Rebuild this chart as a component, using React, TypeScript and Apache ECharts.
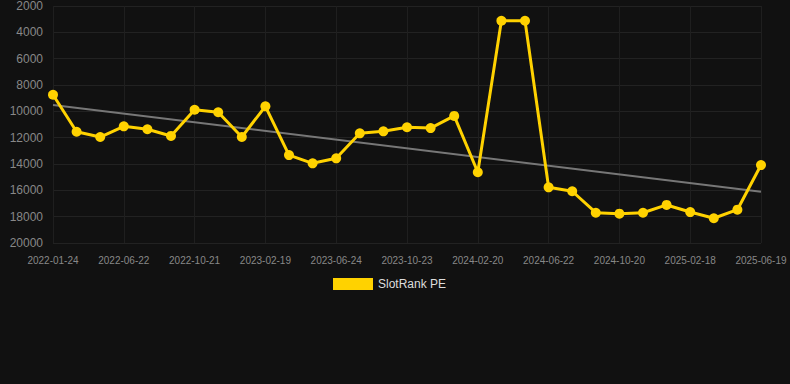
import React, { useEffect, useRef } from "react";
import * as echarts from "echarts";

const dates = [
  "2022-01-24", "2022-03-15", "2022-05-04",
  "2022-06-22", "2022-08-01", "2022-09-11",
  "2022-10-21", "2022-12-01", "2023-01-10",
  "2023-02-19", "2023-04-01", "2023-05-13",
  "2023-06-24", "2023-08-03", "2023-09-13",
  "2023-10-23", "2023-12-02", "2024-01-11",
  "2024-02-20", "2024-04-01", "2024-05-12",
  "2024-06-22", "2024-08-01", "2024-09-10",
  "2024-10-20", "2024-11-29", "2025-01-09",
  "2025-02-18", "2025-03-30", "2025-05-10",
  "2025-06-19",
];

const rankValues = [
  8740, 11550, 11950, 11140, 11360, 11870, 9880, 10070, 11950, 9620,
  13320, 13950, 13570, 11670, 11520, 11210, 11270, 10350, 14630, 3120,
  3120, 15770, 16070, 17700, 17770, 17700, 17110, 17650, 18120, 17470,
  14080,
];

const trendStart = 9520;
const trendEnd = 16100;

const yTicks = { min: 2000, max: 20000, interval: 2000 };

const FONT = "Arial, 'Liberation Sans', sans-serif";

export default function App() {
  const ref = useRef<HTMLDivElement>(null);
  useEffect(() => {
    if (!ref.current) return;
    const chart = echarts.init(ref.current, undefined, { renderer: "svg" });
    const trendData = dates.map((_, i) =>
      i === 0 ? trendStart : i === dates.length - 1 ? trendEnd : null
    );
    chart.setOption({
      animation: false,
      backgroundColor: "#111111",
      grid: { left: 53, right: 29, top: 6, bottom: 141, containLabel: false },
      legend: {
        data: [{ name: "SlotRank PE", icon: "rect" }],
        top: 273,
        left: 328,
        itemWidth: 40,
        itemHeight: 12,
        itemGap: 10,
        textStyle: { color: "#dddddd", fontSize: 12, fontFamily: FONT },
      },
      xAxis: {
        type: "category",
        data: dates,
        boundaryGap: false,
        axisLine: { show: false },
        axisTick: { show: false },
        axisLabel: {
          interval: 2,
          color: "#888888",
          fontSize: 10,
          margin: 12,
          fontFamily: FONT,
        },
        splitLine: {
          show: true,
          interval: 2,
          lineStyle: { color: "#1f1f1f", width: 1 },
        },
      },
      yAxis: {
        type: "value",
        inverse: true,
        min: yTicks.min,
        max: yTicks.max,
        interval: yTicks.interval,
        axisLine: { show: false },
        axisTick: { show: false },
        axisLabel: {
          color: "#888888",
          fontSize: 12,
          margin: 10,
          fontFamily: FONT,
          formatter: (v: number) => String(v),
        },
        splitLine: { lineStyle: { color: "#222222", width: 1 } },
      },
      series: [
        {
          name: "Trend",
          type: "line",
          data: trendData,
          connectNulls: true,
          showSymbol: false,
          symbol: "none",
          lineStyle: { color: "#777777", width: 2 },
          itemStyle: { color: "#777777" },
          z: 1,
        },
        {
          name: "SlotRank PE",
          type: "line",
          data: rankValues,
          symbol: "circle",
          symbolSize: 10,
          lineStyle: { color: "#FFD200", width: 3 },
          itemStyle: { color: "#FFD200" },
          z: 2,
        },
      ],
    });
    return () => chart.dispose();
  }, []);
  return (
    <div
      ref={ref}
      style={{ position: "fixed", left: 0, top: 0, width: 790, height: 384 }}
    />
  );
}
